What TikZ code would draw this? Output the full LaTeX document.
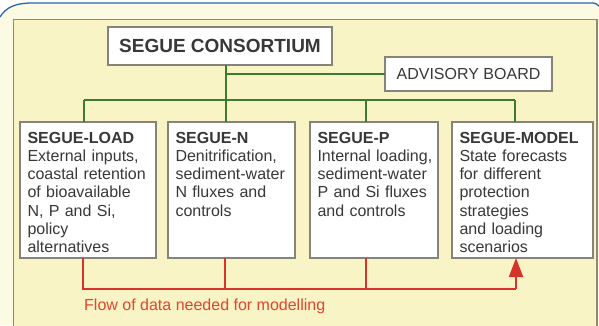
\documentclass[tikz,border=0pt]{standalone}
\usepackage{fontspec}
\setmainfont{Liberation Sans}
\usetikzlibrary{arrows.meta}
\definecolor{cream}{HTML}{FDFAE4}
\definecolor{panel}{HTML}{F9F4C6}
\definecolor{panelborder}{HTML}{8F8A76}
\definecolor{frameblue}{HTML}{2A69A6}
\definecolor{boxgray}{HTML}{85837A}
\definecolor{txtgray}{HTML}{383838}
\definecolor{linegreen}{HTML}{3C7A2C}
\definecolor{linered}{HTML}{D6332A}
\definecolor{txtred}{HTML}{E0452F}
\tikzset{
  unitbox/.style={draw=boxgray, fill=white, line width=1.4pt, outer sep=0pt,
    anchor=north west, align=left, inner xsep=7.5pt, inner ysep=9.5pt,
    text height=11.5pt, text depth=105.5pt, text=txtgray,
    font=\fontsize{16}{18.3}\selectfont},
  topbox/.style={draw=boxgray, fill=white, line width=1.4pt, outer sep=0pt,
    inner sep=0pt, text=txtgray},
  gline/.style={draw=linegreen, line width=2pt},
  rline/.style={draw=linered, line width=2pt},
}
\newcommand{\unittext}[2]{\begin{tabular}[t]{@{}l@{}}\textbf{#1}\\#2\end{tabular}}
\begin{document}
\begin{tikzpicture}[x=1pt,y=-1pt]
\useasboundingbox (0,0) rectangle (599,325);
\clip (0,0) rectangle (599,325);
\fill[white] (0,0) rectangle (599,325);
% outer frame
\fill[cream] (0,17) .. controls (6,7) and (16,3) .. (32,3) -- (599,3) -- (599,325) -- (0,325) -- cycle;
\draw[frameblue, line width=1.3pt] (0,17) .. controls (6,7) and (16,3) .. (32,3) -- (590,3) .. controls (595,3) .. (599,6);
% panel
\draw[panelborder, fill=panel, line width=1.6pt] (13.5,19.5) rectangle (597,335);

% top boxes
\node[topbox, minimum width=224pt, minimum height=38pt,
  font=\fontsize{19}{21}\selectfont\bfseries] (cons) at (220,46) {SEGUE CONSORTIUM};
\node[topbox, minimum width=167pt, minimum height=34pt,
  font=\fontsize{16}{18}\selectfont] (adv) at (468.5,74) {ADVISORY BOARD};

% unit boxes
\node[unitbox, text width=121pt] (load) at (20,122)
  {\unittext{SEGUE-LOAD}{External inputs,\\coastal retention\\of bioavailable\\N, P and Si,\\policy\\alternatives}};
\node[unitbox, text width=112pt] (segn) at (168,122)
  {\unittext{SEGUE-N}{Denitrification,\\sediment-water\\N fluxes and\\controls}};
\node[unitbox, text width=113pt] (segp) at (310,122)
  {\unittext{SEGUE-P}{Internal loading,\\sediment-water\\P and Si fluxes\\and controls}};
\node[unitbox, text width=126pt] (model) at (452,122)
  {\unittext{SEGUE-MODEL}{State forecasts\\for different\\protection\\strategies\\and loading\\scenarios}};

% green organisation lines
\coordinate (jc) at (226,100);
\coordinate (ja) at (226,74);
\coordinate (bl) at (84,100);
\coordinate (br) at (515,100);
\coordinate (bp) at (366,100);
\draw[gline] (cons.south -| jc) -- (jc);
\draw[gline] (ja) -- (adv.west);
\draw[gline] (bl) -- (br);
\draw[gline] (bl) -- (bl |- load.north);
\draw[gline] (jc) -- (jc |- segn.north);
\draw[gline] (bp) -- (bp |- segp.north);
\draw[gline] (br) -- (br |- model.north);

% red data flow
\coordinate (rl) at (83,289);
\coordinate (rn) at (225,289);
\coordinate (rp) at (366,289);
\coordinate (rr) at (516,289);
\draw[rline] (load.south -| rl) -- (rl) -- (rr);
\draw[rline] (segn.south -| rn) -- (rn);
\draw[rline] (segp.south -| rp) -- (rp);
\draw[rline, -{Triangle[length=19pt,width=14pt]}] (rr) -- (rr |- model.south);
\node[anchor=west, text=txtred, font=\fontsize{16}{18}\selectfont, inner sep=0pt] (flow) at (84,306)
  {Flow of data needed for modelling};
\end{tikzpicture}
\end{document}
